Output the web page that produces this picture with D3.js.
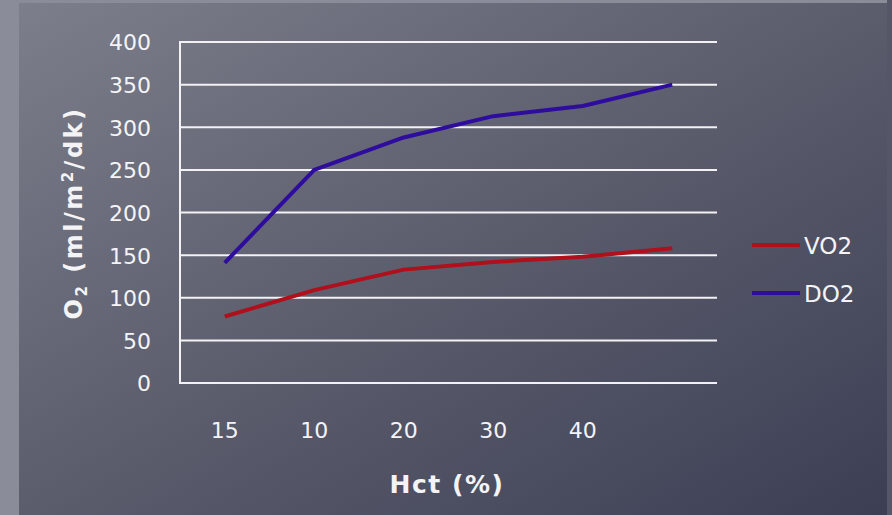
<!DOCTYPE html>
<html>
<head>
<meta charset="utf-8">
<script src="https://cdn.jsdelivr.net/npm/d3@7"></script>
<style>
html,body{margin:0;padding:0;background:#5a5c6b;}
svg{display:block;}
</style>
</head>
<body>
<svg id="chart" width="892" height="515"></svg>
<script>
const categories = ["15", "10", "20", "30", "40", ""];
const vo2 = [78, 109, 133, 142, 148, 158];
const do2 = [141, 250, 288, 313, 325, 350];
const yTicks = [0, 50, 100, 150, 200, 250, 300, 350, 400];
const seriesNames = ["VO2", "DO2"];
const seriesColors = ["#b0101c", "#2e0c9e"];

const W = 892, H = 515;
const svg = d3.select("#chart");
const defs = svg.append("defs");
const g1 = defs.append("linearGradient").attr("id","bg")
  .attr("x1","0").attr("y1","0").attr("x2","1").attr("y2","1");
g1.append("stop").attr("offset","0").attr("stop-color","#7c7e8b");
g1.append("stop").attr("offset","0.5").attr("stop-color","#5b5d6d");
g1.append("stop").attr("offset","1").attr("stop-color","#3c3e54");

svg.append("rect").attr("width",W).attr("height",H).attr("fill","#8a8c99");
svg.append("rect").attr("x",887).attr("y",0).attr("width",5).attr("height",H).attr("fill","#555768");
svg.append("rect").attr("x",19).attr("y",3).attr("width",868).attr("height",H-3).attr("fill","url(#bg)");

const m = {left:180, right:717, top:42, bottom:383};
const x = d3.scaleBand().domain(categories.map((c,i)=>i)).range([m.left, m.right]);
const y = d3.scaleLinear().domain([0,400]).range([m.bottom, m.top]);

// gridlines
svg.append("g").selectAll("line").data(yTicks).join("line")
  .attr("x1", m.left).attr("x2", m.right)
  .attr("y1", d=>y(d)).attr("y2", d=>y(d))
  .attr("stroke","#f2f2f4").attr("stroke-width",2);
svg.append("line").attr("x1",m.left).attr("x2",m.left).attr("y1",m.top-1).attr("y2",m.bottom+1)
  .attr("stroke","#f2f2f4").attr("stroke-width",2);

const font = "'DejaVu Sans', Verdana, sans-serif";
// y axis labels
const yAxis = d3.axisLeft(y).tickValues(yTicks).tickSize(0).tickPadding(0);
const ya = svg.append("g").attr("transform",`translate(151,0)`).call(yAxis);
ya.select(".domain").remove();
ya.selectAll("text").attr("font-family",font).attr("font-size",22).attr("fill","#f4f4f6")
  .attr("dy","0.36em");

// x axis labels
const xAxis = d3.axisBottom(x).tickFormat(i=>categories[i]).tickSize(0).tickPadding(0);
const xa = svg.append("g").attr("transform",`translate(0,423)`).call(xAxis);
xa.select(".domain").remove();
xa.selectAll("text").attr("font-family",font).attr("font-size",22).attr("fill","#f4f4f6").attr("dy","0.7em");

// lines
const cx = i => x(i) + x.bandwidth()/2;
const line = d3.line().x((d,i)=>cx(i)).y(d=>y(d));
[vo2, do2].forEach((s,k)=>{
  svg.append("path").datum(s).attr("d",line).attr("fill","none")
    .attr("stroke",seriesColors[k]).attr("stroke-width",4).attr("stroke-linejoin","round");
});

// legend
const leg = svg.append("g");
seriesNames.forEach((n,k)=>{
  const yy = 245 + k*48;
  leg.append("line").attr("x1",752).attr("x2",800).attr("y1",yy).attr("y2",yy)
    .attr("stroke",seriesColors[k]).attr("stroke-width",4);
  leg.append("text").attr("x",804).attr("y",yy+1).attr("dy","0.36em")
    .attr("font-family",font).attr("font-size",23).attr("fill","#f4f4f6").text(n);
});

// axis titles
svg.append("text").attr("x",447).attr("y",484).attr("dy","0.36em").attr("text-anchor","middle")
  .attr("font-family",font).attr("font-weight","bold").attr("font-size",25).attr("fill","#f4f4f6")
  .attr("letter-spacing",1.5).text("Hct (%)");
const yt = svg.append("text").attr("transform","translate(73,213) rotate(-90)")
  .attr("text-anchor","middle").attr("dy","0.36em")
  .attr("font-family",font).attr("font-weight","bold").attr("font-size",24).attr("fill","#f4f4f6")
  .attr("letter-spacing",2.5);
yt.append("tspan").text("O");
yt.append("tspan").attr("font-size",15).attr("dy","5").text("2");
yt.append("tspan").attr("dy","-5").text(" (ml/m");
yt.append("tspan").attr("font-size",15).attr("dy","-9").text("2");
yt.append("tspan").attr("dy","9").text("/dk)");
</script>
</body>
</html>
